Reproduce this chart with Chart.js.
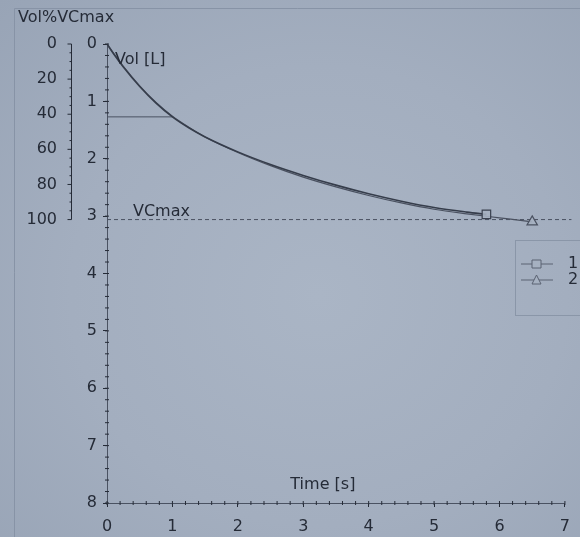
<!DOCTYPE html>
<html>
<head>
<meta charset="utf-8">
<script src="https://cdn.jsdelivr.net/npm/chart.js@4.4.1/dist/chart.umd.min.js"></script>
<style>
  html, body { margin: 0; padding: 0; }
  body {
    width: 580px; height: 537px; overflow: hidden;
    background: radial-gradient(ellipse at 55% 55%, #aab5c5 0%, #a3aebf 55%, #98a4b6 100%);
  }
  canvas { display: block; filter: blur(0.5px); }
</style>
</head>
<body>
<canvas id="chartjs-0" width="580" height="537"></canvas>
<script>
"use strict";
/* trial 1: time [s] and volume [L] */
var time1 = [0, 0.1, 0.25, 0.5, 0.75, 1, 1.25, 1.5, 2, 2.5, 3, 3.5, 4, 4.5, 5, 5.5, 5.8];
var vol1 = [0, 0.17, 0.4, 0.74, 1.03, 1.27, 1.46, 1.62, 1.88, 2.1, 2.29, 2.46, 2.61, 2.74, 2.85, 2.93, 2.97];
/* trial 2 */
var time2 = [0, 0.1, 0.25, 0.5, 0.75, 1, 1.25, 1.5, 2, 2.5, 3, 3.5, 4, 4.5, 5, 5.5, 6, 6.5];
var vol2 = [0, 0.16, 0.39, 0.73, 1.02, 1.26, 1.45, 1.62, 1.89, 2.12, 2.32, 2.49, 2.64, 2.77, 2.88, 2.96, 3.03, 3.1];
/* FEV1 marker and VCmax reference */
var fev1 = 1.27;
var vcMax = 3.06;
var seriesNames = ["1", "2"];
var xTicks = [0, 1, 2, 3, 4, 5, 6, 7];
var volTicks = [0, 1, 2, 3, 4, 5, 6, 7, 8];
var pctTicks = [0, 20, 40, 60, 80, 100];

var ink = "#252b37";
var font = "DejaVu Sans";

function pts(xs, ys) {
    var out = [];
    for (var i = 0; i < xs.length; i++) {
        out.push({ x: xs[i], y: ys[i] });
    }
    return out;
}

/* draws the extra bits: frame, minor ticks, labels, % axis line, legend */
var extras = {
    id: "extras",
    afterDraw: function (chart) {
        var c = chart.ctx;
        var xs = chart.scales.x, ys = chart.scales.y, ps = chart.scales.y2;
        var a = chart.chartArea;
        c.save();
        // photo frame
        c.strokeStyle = "#8793a6";
        c.lineWidth = 1;
        c.beginPath();
        c.moveTo(14.5, 537); c.lineTo(14.5, 8.5); c.lineTo(580, 8.5);
        c.stroke();

        // minor ticks
        c.strokeStyle = ink;
        c.beginPath();
        for (var v = 0; v <= 8.001; v += 0.2) {
            var py = ys.getPixelForValue(v);
            c.moveTo(a.left - 2, py); c.lineTo(a.left + 2, py);
        }
        for (var t = 0; t <= 7.001; t += 0.2) {
            var px = xs.getPixelForValue(t);
            c.moveTo(px, a.bottom - 2); c.lineTo(px, a.bottom + 2);
        }
        // % axis line
        var pxA = ps.right - 0.5;
        c.moveTo(pxA, ps.getPixelForValue(0));
        c.lineTo(pxA, ps.getPixelForValue(100));
        for (var p = 0; p <= 100; p += 5) {
            var yy = ps.getPixelForValue(p);
            var len = (p % 20 === 0) ? 4 : 2;
            c.moveTo(pxA - len, yy); c.lineTo(pxA, yy);
        }
        c.stroke();

        // texts
        c.fillStyle = ink;
        c.font = "16px '" + font + "'";
        c.textBaseline = "middle";
        c.textAlign = "left";
        c.fillText("Vol%VCmax", 18, 18);
        c.fillText("Vol [L]", a.left + 8, 60);
        c.fillText("VCmax", a.left + 26, ys.getPixelForValue(vcMax) - 8);
        c.textAlign = "center";
        c.fillText("Time [s]", xs.getPixelForValue(3.3), a.bottom - 18);

        // legend
        c.strokeStyle = "#8a96a8";
        c.strokeRect(515.5, 240.5, 80, 75);
        c.strokeStyle = "#5a6272";
        c.lineWidth = 1;
        var ly = [264, 280];
        for (var k = 0; k < 2; k++) {
            c.beginPath();
            c.moveTo(521, ly[k]); c.lineTo(553, ly[k]);
            c.stroke();
            c.beginPath();
            if (k === 0) {
                c.rect(532, ly[k] - 4, 9, 8);
            } else {
                c.moveTo(536.5, ly[k] - 5); c.lineTo(541, ly[k] + 4); c.lineTo(532, ly[k] + 4); c.closePath();
            }
            c.fillStyle = "#a6b1c1";
            c.fill();
            c.stroke();
            c.fillStyle = ink;
            c.textAlign = "left";
            c.fillText(seriesNames[k], 568, ly[k]);
        }
        c.restore();
    }
};

var ctx = document.getElementById("chartjs-0");

var myChart = new Chart(ctx, {
    type: "scatter",
    data: {
        datasets: [{
            label: seriesNames[0],
            data: pts(time1, vol1),
            showLine: true,
            cubicInterpolationMode: "monotone",
            borderColor: "#363d4b",
            borderWidth: 1.6,
            backgroundColor: "rgba(166,177,193,0.9)",
            pointStyle: "rect",
            pointRadius: function (c) { return c.dataIndex === time1.length - 1 ? 6 : 0; },
            pointBorderColor: "#3a414f",
            pointBorderWidth: 1.2,
            clip: false
        }, {
            label: seriesNames[1],
            data: pts(time2, vol2),
            showLine: true,
            cubicInterpolationMode: "monotone",
            borderColor: "#4a5160",
            borderWidth: 1.2,
            backgroundColor: "rgba(166,177,193,0.9)",
            pointStyle: "triangle",
            pointRadius: function (c) { return c.dataIndex === time2.length - 1 ? 6 : 0; },
            pointBorderColor: "#4a5160",
            pointBorderWidth: 1.2,
            clip: false
        }, {
            label: "VCmax",
            data: pts([0, 7.1], [vcMax, vcMax]),
            showLine: true,
            borderColor: "#4a5262",
            borderWidth: 1,
            borderDash: [4, 3],
            pointRadius: 0,
            clip: false
        }, {
            label: "FEV1",
            data: pts([0, 1], [fev1, fev1]),
            showLine: true,
            borderColor: "#4a5262",
            borderWidth: 1,
            pointRadius: 0
        }]
    },
    options: {
        responsive: false,
        animation: false,
        layout: { padding: { top: 44, right: 15, left: 0, bottom: 0 } },
        plugins: {
            legend: { display: false },
            tooltip: { enabled: false }
        },
        scales: {
            x: {
                type: "linear",
                position: "bottom",
                min: 0, max: 7,
                afterFit: function (s) { s.height = 34; },
                afterBuildTicks: function (s) { s.ticks = xTicks.map(function (v) { return { value: v }; }); },
                border: { display: true, color: "#4a5262", width: 1 },
                grid: { display: true, drawOnChartArea: false, drawTicks: true, tickLength: 4, color: ink },
                ticks: { color: ink, padding: 10, font: { family: font, size: 16 } }
            },
            y: {
                type: "linear",
                position: "left",
                reverse: true,
                min: 0, max: 8,
                weight: 0,
                afterFit: function (s) { s.width = 35; },
                afterBuildTicks: function (s) { s.ticks = volTicks.map(function (v) { return { value: v }; }); },
                border: { display: true, color: "#4a5262", width: 1 },
                grid: { display: true, drawOnChartArea: false, drawTicks: true, tickLength: 4, color: ink },
                ticks: { color: ink, padding: 6, font: { family: font, size: 16 } }
            },
            y2: {
                type: "linear",
                position: "left",
                reverse: true,
                min: 0, max: 100 * 8 / vcMax,
                weight: 10,
                afterFit: function (s) { s.width = 72; },
                afterBuildTicks: function (s) { s.ticks = pctTicks.map(function (v) { return { value: v }; }); },
                border: { display: false },
                grid: { display: false },
                ticks: { color: ink, padding: 7, font: { family: font, size: 16 } }
            }
        }
    },
    plugins: [extras]
});
</script>
</body>
</html>
